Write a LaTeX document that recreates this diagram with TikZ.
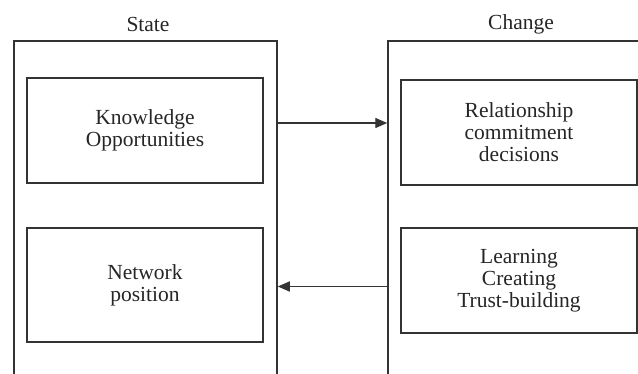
\documentclass[tikz,border=0pt]{standalone}
\usepackage{fontspec}
\setmainfont{Liberation Serif}
\usetikzlibrary{arrows.meta}
\definecolor{ink}{HTML}{333333}
\definecolor{txt}{HTML}{262626}
\begin{document}
\begin{tikzpicture}[x=1pt,y=-1pt,
  frame/.style={draw=ink,line width=1.5pt,inner sep=0pt},
  itembox/.style={draw=ink,line width=1.4pt,inner sep=0pt,minimum width=236pt,
    text=txt,align=center,font=\fontsize{21.5}{22}\selectfont},
  title/.style={text=txt,font=\fontsize{21.5}{22}\selectfont,inner sep=0pt},
  flow/.style={draw=ink,line width=1.4pt,-{Triangle[length=12pt,width=10pt]}}]
\useasboundingbox (0,0) rectangle (638,374);
\fill[white] (0,0) rectangle (638,374);
\clip (0,0) rectangle (638,374);

% the two outer frames run past the lower edge
\node[frame,minimum width=263pt,minimum height=359pt] (stateframe) at (145.5,220.5) {};
\node[frame,minimum width=262pt,minimum height=359pt] (changeframe) at (519,220.5) {};

\node[title] (statetitle) at (148,24) {State};
\node[title] (changetitle) at (521,24) {Change};

% contents of the State frame
\node[itembox,minimum height=105pt] (know) at (145,130.5) {Knowledge\\Opportunities};
\node[itembox,minimum height=114pt] (netpos) at (145,285) {Network\\position};

% contents of the Change frame
\node[itembox,minimum height=105pt] (relcom) at (519,132.5) {Relationship\\commitment\\decisions};
\node[itembox,minimum height=105pt] (learn) at (519,280.5) {Learning\\Creating\\Trust-building};

% connectors between the frames
\coordinate (upper) at (0,123);
\coordinate (lower) at (0,286.5);
\draw[flow] (stateframe.east |- upper) -- (changeframe.west |- upper);
\draw[flow] (changeframe.west |- lower) -- (stateframe.east |- lower);
\end{tikzpicture}
\end{document}
